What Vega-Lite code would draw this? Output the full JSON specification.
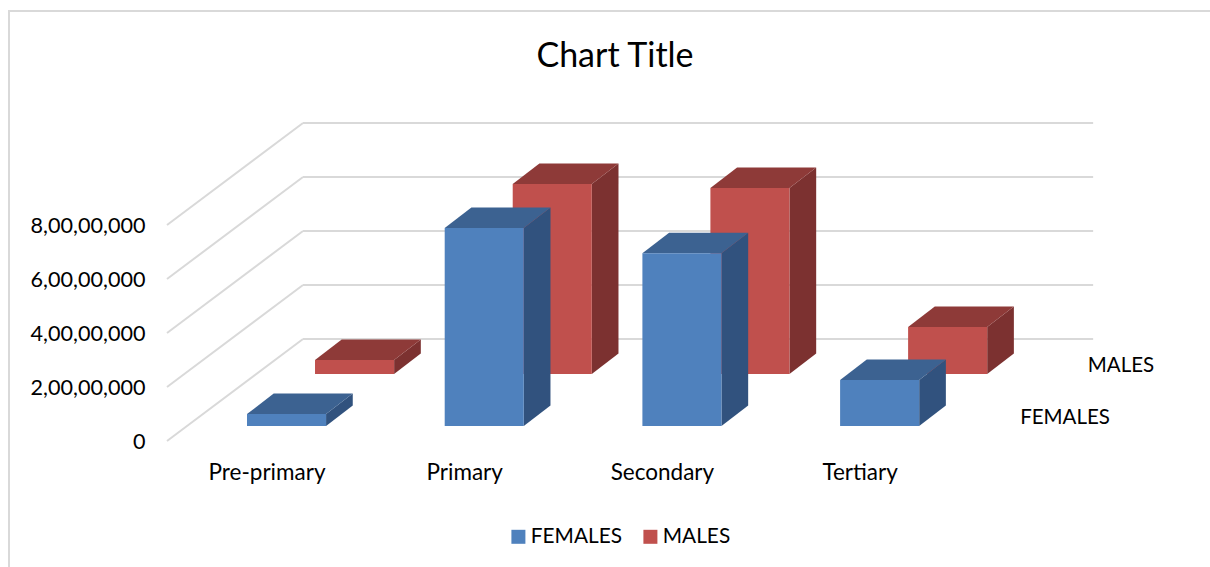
{"$schema":"https://vega.github.io/schema/vega-lite/v6.json","width":1231,"height":586,"autosize":{"type":"none"},"padding":{"left":9,"top":11,"right":0,"bottom":0},"background":"white","view":{"stroke":"#d9d9d9","strokeWidth":2,"fill":"white"},"title":{"text":"Chart Title","anchor":"middle","font":"Lato","fontSize":34,"fontWeight":"normal","color":"#000000","offset":-63,"dx":-9.5},"config":{"font":"Lato"},"datasets":{"ticks":[{"tick":0},{"tick":20000000},{"tick":40000000},{"tick":60000000},{"tick":80000000}],"rows":[{"category":"Pre-primary","series":"FEMALES","value":4400000},{"category":"Primary","series":"FEMALES","value":73300000},{"category":"Secondary","series":"FEMALES","value":64000000},{"category":"Tertiary","series":"FEMALES","value":17000000},{"category":"Pre-primary","series":"MALES","value":5200000},{"category":"Primary","series":"MALES","value":70400000},{"category":"Secondary","series":"MALES","value":68900000},{"category":"Tertiary","series":"MALES","value":17400000}]},"layer":[{"data":{"name":"ticks"},"transform":[{"calculate":"datum.tick+37800000","as":"back"},{"calculate":"-0.4047","as":"xf"},{"calculate":"0.2833","as":"xb"}],"mark":{"type":"rule","stroke":"#d9d9d9","strokeWidth":2},"encoding":{"x":{"field":"xf","type":"quantitative","axis":null,"scale":{"domain":[-1.2039,5.0228],"nice":false,"zero":false}},"x2":{"field":"xb"},"y":{"field":"tick","type":"quantitative","scale":{"domain":[-57780000,159260000],"nice":false,"zero":false},"axis":{"title":null,"values":[0,20000000,40000000,60000000,80000000],"domain":false,"ticks":false,"grid":false,"offset":-136,"labelPadding":0,"labelOffset":2,"labelFont":"Lato","labelFontSize":21.6,"labelColor":"#000000","labelExpr":"datum.value==0?'0':(datum.value/10000000)+',00,00,000'"}},"y2":{"field":"back"}}},{"data":{"name":"ticks"},"transform":[{"calculate":"datum.tick+37800000","as":"back"},{"calculate":"0.2833","as":"xb"},{"calculate":"4.28","as":"xe"}],"mark":{"type":"rule","stroke":"#d9d9d9","strokeWidth":2},"encoding":{"x":{"field":"xb","type":"quantitative","axis":null,"scale":{"domain":[-1.2039,5.0228],"nice":false,"zero":false}},"x2":{"field":"xe"},"y":{"field":"back","type":"quantitative","scale":{"domain":[-57780000,159260000],"nice":false,"zero":false}}}},{"data":{"name":"rows"},"transform":[{"calculate":"indexof(['Pre-primary','Primary','Secondary','Tertiary'],datum.category)","as":"idx"},{"calculate":"datum.series=='MALES'?1:0","as":"m"},{"calculate":"datum.idx+datum.m*0.344","as":"xl"},{"calculate":"datum.xl+0.4","as":"xr"},{"calculate":"datum.m?24800000:5560000","as":"base"},{"calculate":"datum.base+datum.value","as":"top"},{"calculate":"[0,1]","as":"d"}],"encoding":{"color":{"field":"face","type":"nominal","scale":{"domain":["FEMALES","MALES","FEMALES top","FEMALES side","MALES top","MALES side"],"range":["#4F81BD","#C0504D","#3C6291","#31527E","#8E3A38","#7C3130"]},"legend":{"title":null,"values":["FEMALES","MALES"],"orient":"none","legendX":499,"legendY":515,"direction":"horizontal","symbolType":"square","symbolSize":196,"symbolStrokeWidth":0,"symbolOpacity":1,"labelFont":"Lato","labelFontSize":20.8,"labelColor":"#000000","labelOffset":2,"columnPadding":18,"padding":0}}},"layer":[{"transform":[{"filter":"datum.m==1"},{"flatten":["d"]},{"calculate":"datum.series+' side'","as":"face"},{"calculate":"datum.xr+datum.d*0.135","as":"px"},{"calculate":"datum.base+datum.d*7600000","as":"py"},{"calculate":"datum.top+datum.d*7600000","as":"py2"}],"mark":{"type":"area","orient":"vertical","opacity":1},"encoding":{"detail":{"field":"category"},"x":{"field":"px","type":"quantitative","axis":null,"scale":{"domain":[-1.2039,5.0228],"nice":false,"zero":false}},"y":{"field":"py","type":"quantitative","stack":null,"scale":{"domain":[-57780000,159260000],"nice":false,"zero":false}},"y2":{"field":"py2"}}},{"transform":[{"filter":"datum.m==1"},{"flatten":["d"]},{"calculate":"datum.series+' top'","as":"face"},{"calculate":"datum.xl+datum.d*0.135","as":"px"},{"calculate":"datum.xr+datum.d*0.135","as":"px2"},{"calculate":"datum.top+datum.d*7600000","as":"py"}],"mark":{"type":"area","orient":"horizontal","opacity":1},"encoding":{"detail":{"field":"category"},"x":{"field":"px","type":"quantitative","stack":null,"axis":null,"scale":{"domain":[-1.2039,5.0228],"nice":false,"zero":false}},"x2":{"field":"px2"},"y":{"field":"py","type":"quantitative","scale":{"domain":[-57780000,159260000],"nice":false,"zero":false}}}},{"transform":[{"filter":"datum.m==1"},{"calculate":"datum.series","as":"face"}],"mark":{"type":"rect"},"encoding":{"x":{"field":"xl","type":"quantitative","axis":null,"scale":{"domain":[-1.2039,5.0228],"nice":false,"zero":false}},"x2":{"field":"xr"},"y":{"field":"base","type":"quantitative","scale":{"domain":[-57780000,159260000],"nice":false,"zero":false}},"y2":{"field":"top"}}},{"transform":[{"filter":"datum.m==0"},{"flatten":["d"]},{"calculate":"datum.series+' side'","as":"face"},{"calculate":"datum.xr+datum.d*0.135","as":"px"},{"calculate":"datum.base+datum.d*7600000","as":"py"},{"calculate":"datum.top+datum.d*7600000","as":"py2"}],"mark":{"type":"area","orient":"vertical","opacity":1},"encoding":{"detail":{"field":"category"},"x":{"field":"px","type":"quantitative","axis":null,"scale":{"domain":[-1.2039,5.0228],"nice":false,"zero":false}},"y":{"field":"py","type":"quantitative","stack":null,"scale":{"domain":[-57780000,159260000],"nice":false,"zero":false}},"y2":{"field":"py2"}}},{"transform":[{"filter":"datum.m==0"},{"flatten":["d"]},{"calculate":"datum.series+' top'","as":"face"},{"calculate":"datum.xl+datum.d*0.135","as":"px"},{"calculate":"datum.xr+datum.d*0.135","as":"px2"},{"calculate":"datum.top+datum.d*7600000","as":"py"}],"mark":{"type":"area","orient":"horizontal","opacity":1},"encoding":{"detail":{"field":"category"},"x":{"field":"px","type":"quantitative","stack":null,"axis":null,"scale":{"domain":[-1.2039,5.0228],"nice":false,"zero":false}},"x2":{"field":"px2"},"y":{"field":"py","type":"quantitative","scale":{"domain":[-57780000,159260000],"nice":false,"zero":false}}}},{"transform":[{"filter":"datum.m==0"},{"calculate":"datum.series","as":"face"}],"mark":{"type":"rect"},"encoding":{"x":{"field":"xl","type":"quantitative","axis":null,"scale":{"domain":[-1.2039,5.0228],"nice":false,"zero":false}},"x2":{"field":"xr"},"y":{"field":"base","type":"quantitative","scale":{"domain":[-57780000,159260000],"nice":false,"zero":false}},"y2":{"field":"top"}}}]},{"data":{"name":"rows"},"transform":[{"filter":"datum.series=='FEMALES'"},{"calculate":"indexof(['Pre-primary','Primary','Secondary','Tertiary'],datum.category)+0.1012","as":"lx"},{"calculate":"-11800000","as":"ly"}],"mark":{"type":"text","font":"Lato","fontSize":22.5,"color":"#000000","align":"center","baseline":"middle"},"encoding":{"x":{"field":"lx","type":"quantitative","axis":null,"scale":{"domain":[-1.2039,5.0228],"nice":false,"zero":false}},"y":{"field":"ly","type":"quantitative","scale":{"domain":[-57780000,159260000],"nice":false,"zero":false}},"text":{"field":"category"}}},{"data":{"name":"rows"},"transform":[{"filter":"datum.category=='Tertiary'"},{"calculate":"datum.series=='MALES'?4.421:4.138","as":"lx"},{"calculate":"datum.series=='MALES'?27700000:8500000","as":"ly"}],"mark":{"type":"text","font":"Lato","fontSize":20.5,"color":"#000000","align":"center","baseline":"middle"},"encoding":{"x":{"field":"lx","type":"quantitative","axis":null,"scale":{"domain":[-1.2039,5.0228],"nice":false,"zero":false}},"y":{"field":"ly","type":"quantitative","scale":{"domain":[-57780000,159260000],"nice":false,"zero":false}},"text":{"field":"series"}}}]}
